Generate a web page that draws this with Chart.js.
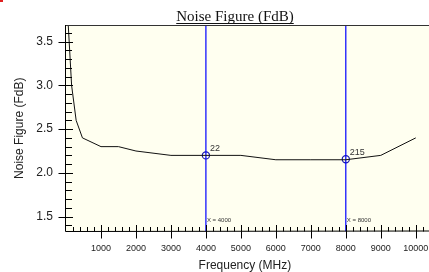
<!DOCTYPE html>
<html>
<head>
<meta charset="utf-8">
<script src="https://cdn.jsdelivr.net/npm/chart.js@4"></script>
<style>
  html, body { margin: 0; padding: 0; background: #fff; overflow: hidden; }
  canvas { display: block; }
</style>
</head>
<body>
<canvas id="nf" width="429" height="272"></canvas>
<script>
// frequency (MHz) and noise figure (dB)
const freqs = [60, 160, 290, 470, 1000, 1500, 2000, 3000, 4000, 5000, 6000, 7000, 8000, 9000, 10000];
const noiseFig = [3.72, 3.0, 2.6, 2.4, 2.3, 2.3, 2.25, 2.2, 2.2, 2.2, 2.15, 2.15, 2.15, 2.2, 2.4];

// markers
const markerFreqs = [4000, 8000];
const markerVals = [2.2, 2.155];
const markerLabels = ["22", "215"];

// axis ticks
const xTicks = [0, 1000, 2000, 3000, 4000, 5000, 6000, 7000, 8000, 9000, 10000];
const yTicks = [1.5, 2.0, 2.5, 3.0, 3.5];
const xMinorStep = 200;
const yMinorStep = 0.1;

const X_MIN = 0, X_MAX = 10230;
const Y_MIN = 1.33, Y_MAX = 3.69;

const linePts = freqs.map((f, i) => ({ x: f, y: noiseFig[i] }));
const markerPts = markerFreqs.map((f, i) => ({ x: f, y: markerVals[i] }));

const datasets = [
  {
    label: "NF",
    data: linePts,
    borderColor: "#111",
    borderWidth: 1,
    pointRadius: 0,
    tension: 0,
    showLine: true,
  },
];
// vertical marker lines
markerFreqs.forEach((f) => {
  datasets.push({
    label: "m" + f,
    data: [{ x: f, y: Y_MIN }, { x: f, y: Y_MAX }],
    borderColor: "#0000ff",
    borderWidth: 1.2,
    pointRadius: 0,
    showLine: true,
  });
});
datasets.push({
  label: "markers",
  data: markerPts,
  borderColor: "#1a1aa8",
  backgroundColor: "rgba(0,0,0,0)",
  borderWidth: 1.2,
  pointRadius: 3.6,
  showLine: false,
});

const sekil = {
  id: "sekil",
  beforeDraw(chart) {
    const { ctx, chartArea: a } = chart;
    ctx.save();
    ctx.fillStyle = "#fff";
    ctx.fillRect(0, 0, chart.width, chart.height);
    // plot alani tuvalin sagina kadar uzaniyor
    ctx.fillStyle = "#fffff0";
    ctx.fillRect(a.left, a.top, chart.width - a.left, a.bottom - a.top);
    ctx.restore();
  },
  afterDraw(chart) {
    const { ctx, chartArea: a } = chart;
    const xs = chart.scales.x, ys = chart.scales.y;
    const sag = chart.width;
    ctx.save();

    // cerceve
    ctx.lineWidth = 1;
    ctx.strokeStyle = "#333";
    ctx.beginPath();
    ctx.moveTo(a.left - 0.5, a.top + 0.5);
    ctx.lineTo(sag, a.top + 0.5);
    ctx.stroke();
    ctx.strokeStyle = "#000";
    ctx.beginPath();
    ctx.moveTo(a.left - 0.5, a.top);
    ctx.lineTo(a.left - 0.5, a.bottom);
    ctx.lineTo(sag, a.bottom - 0.5);
    ctx.stroke();

    // y ticks
    ctx.beginPath();
    for (let v = 1.4; v < Y_MAX; v += yMinorStep) {
      const y = Math.round(ys.getPixelForValue(v)) + 0.5;
      ctx.moveTo(a.left - 0.5, y);
      ctx.lineTo(a.left + 6, y);
    }
    yTicks.forEach((v) => {
      const y = Math.round(ys.getPixelForValue(v)) + 0.5;
      ctx.moveTo(a.left - 7.5, y);
      ctx.lineTo(a.left + 7, y);
    });
    // x ticks
    const xSon = xs.getValueForPixel(sag);
    for (let v = xMinorStep; v < xSon; v += xMinorStep) {
      const x = Math.round(xs.getPixelForValue(v)) + 0.5;
      ctx.moveTo(x, a.bottom - 4.5);
      ctx.lineTo(x, a.bottom);
    }
    xTicks.slice(1).forEach((v) => {
      const x = Math.round(xs.getPixelForValue(v)) + 0.5;
      ctx.moveTo(x, a.bottom - 6.5);
      ctx.lineTo(x, a.bottom + 7);
    });
    ctx.stroke();

    // baslik
    const title = "Noise Figure (FdB)";
    ctx.font = "15px 'Liberation Serif'";
    ctx.fillStyle = "#111";
    ctx.textAlign = "center";
    ctx.textBaseline = "alphabetic";
    const tx = 235, ty = 21;
    ctx.fillText(title, tx, ty);
    const tw = ctx.measureText(title).width;
    ctx.strokeStyle = "#111";
    ctx.beginPath();
    ctx.moveTo(tx - tw / 2, 23.5);
    ctx.lineTo(tx + tw / 2, 23.5);
    ctx.stroke();

    // marker etiketleri
    ctx.textAlign = "left";
    ctx.fillStyle = "#333";
    markerFreqs.forEach((f, i) => {
      const x = xs.getPixelForValue(f);
      const y = ys.getPixelForValue(markerVals[i]);
      ctx.font = "9px 'Liberation Sans'";
      ctx.fillText(markerLabels[i], x + 4, y - 4);
      ctx.font = "6px 'Liberation Sans'";
      ctx.fillText("X = " + f, x + 1, a.bottom - 9.5);
    });

    // kucuk kirmizi isaret
    ctx.fillStyle = "#e02020";
    ctx.fillRect(0, 0, 3, 2);
    ctx.restore();
  },
};

new Chart(document.getElementById("nf"), {
  type: "scatter",
  data: { datasets: datasets },
  options: {
    responsive: false,
    animation: false,
    events: [],
    layout: { padding: { top: 25, left: 0, right: 0, bottom: 0 } },
    plugins: { legend: { display: false }, tooltip: { enabled: false } },
    scales: {
      x: {
        type: "linear",
        min: X_MIN,
        max: X_MAX,
        afterBuildTicks: (s) => { s.ticks = xTicks.map((v) => ({ value: v })); },
        afterFit: (s) => { s.height = 40.5; s.paddingLeft = 0; s.paddingRight = 0; },
        grid: { display: false, drawTicks: false },
        border: { display: false },
        ticks: {
          autoSkip: false,
          maxRotation: 0,
          padding: 12,
          color: "#222",
          font: { family: "'Liberation Sans'", size: 9 },
          callback: (v) => (v === 0 ? "" : String(v)),
        },
        title: {
          display: true,
          text: "Frequency (MHz)",
          color: "#222",
          font: { family: "'Liberation Sans'", size: 12, lineHeight: 1 },
          padding: { top: 0, bottom: 0 },
        },
      },
      y: {
        type: "linear",
        min: Y_MIN,
        max: Y_MAX,
        afterBuildTicks: (s) => { s.ticks = yTicks.map((v) => ({ value: v })); },
        afterFit: (s) => { s.width = 66; s.paddingTop = 0; s.paddingBottom = 0; },
        grid: { display: false, drawTicks: false },
        border: { display: false },
        ticks: {
          padding: 13,
          color: "#222",
          font: { family: "'Liberation Sans'", size: 12 },
          callback: (v) => v.toFixed(1),
        },
        title: {
          display: true,
          text: "Noise Figure (FdB)",
          color: "#222",
          font: { family: "'Liberation Sans'", size: 12, lineHeight: 1 },
          padding: { top: 14, bottom: 0 },
        },
      },
    },
  },
  plugins: [sekil],
});
</script>
</body>
</html>
